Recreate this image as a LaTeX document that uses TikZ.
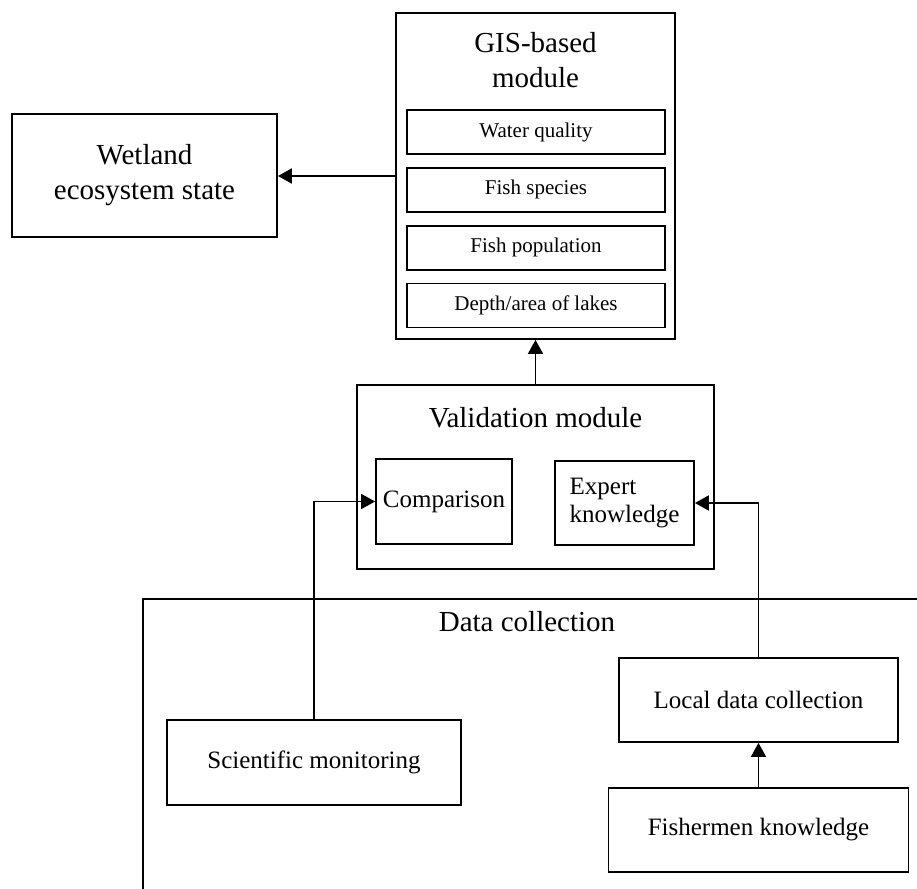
\documentclass[tikz,border=0pt]{standalone}
\usepackage{fontspec}
\setmainfont{Liberation Serif}
\usetikzlibrary{arrows.meta,positioning}
\tikzset{
  box/.style    = {draw, line width=0.9pt, inner sep=2pt, align=center},
  wire/.style   = {line width=0.9pt},
  arr/.style    = {-{Triangle[length=7pt,width=7.5pt]}, line width=0.9pt},
  bigtxt/.style = {font=\fontsize{14.5}{17.5}\selectfont},
  midtxt/.style = {font=\fontsize{12.5}{14}\selectfont},
  smltxt/.style = {font=\fontsize{10.5}{12.5}\selectfont},
}
\begin{document}
\begin{tikzpicture}[x=0.5pt,y=-0.5pt]
  \useasboundingbox (0,0) rectangle (917,889);
  % upper part: state, GIS module, validation
  \node[box,bigtxt,minimum width=132.5pt,minimum height=61.5pt] (wetland) at (144.5,175.5)
      {Wetland\\ecosystem state};
  \node[box,minimum width=139.5pt,minimum height=163pt] (gis) at (535.5,176) {};
  \node[bigtxt,align=center] (gistitle) at (535.5,60) {GIS-based\\module};
  \node[box,smltxt,minimum width=129pt,minimum height=22pt] (water) at (536,132) {Water quality};
  \node[box,smltxt,minimum width=129pt,minimum height=22pt,below=6pt of water] (species) {Fish species};
  \node[box,smltxt,minimum width=129pt,minimum height=22pt,below=6pt of species] (popul) {Fish population};
  \node[box,smltxt,minimum width=129pt,minimum height=22pt,below=6pt of popul] (depth) {Depth/area of lakes};
  \node[box,minimum width=178.5pt,minimum height=92pt] (valid) at (535.5,477) {};
  \node[bigtxt] (validtitle) at (535.5,418) {Validation module};
  \node[box,midtxt,minimum width=68pt,minimum height=42.5pt] (comp) at (444,501.5) {Comparison};
  \node[box,midtxt,align=left,minimum width=69.5pt,minimum height=42pt] (expert) at (624.5,503)
      {Expert\\knowledge};
  % data collection frame, cut by the page
  \draw[wire] (917,599) -| (143,889);
  \node[bigtxt] (datatitle) at (527,622) {Data collection};
  \node[box,midtxt,minimum width=147pt,minimum height=42.5pt] (sci) at (314,762.5) {Scientific monitoring};
  \node[box,midtxt,minimum width=139.5pt,minimum height=42pt] (local) at (758.5,700) {Local data collection};
  \node[box,midtxt,minimum width=150pt,minimum height=42pt] (fisher) at (758.5,830) {Fishermen knowledge};
  \draw[arr] (gis.west) -- (gis.west -| wetland.east);
  \draw[arr] (valid.north) -- (gis.south);
  \draw[arr] (sci.north) |- (comp.west);
  \draw[arr] (local.north) |- (expert.east);
  \draw[arr] (fisher.north) -- (local.south);
\end{tikzpicture}
\end{document}
